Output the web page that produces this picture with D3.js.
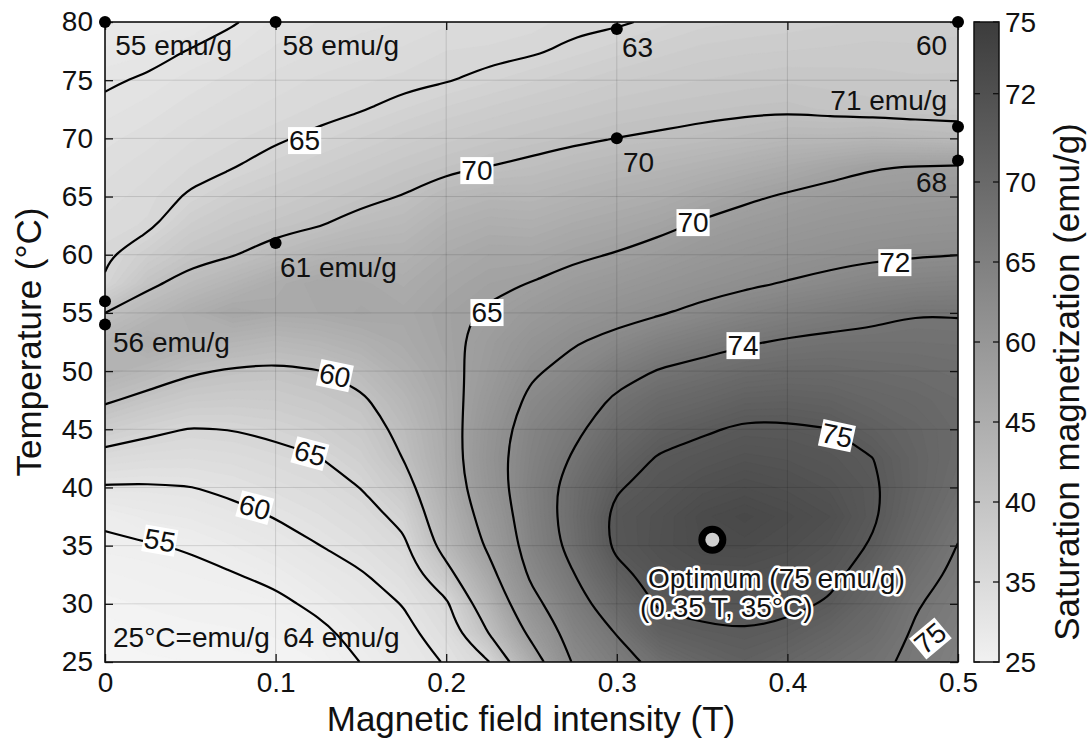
<!doctype html>
<html lang="en">
<head>
<meta charset="utf-8">
<title>Saturation magnetization contour</title>
<script src="https://cdn.jsdelivr.net/npm/d3@7"></script>
<style>
  body { margin: 0; background: #fff; }
  svg { display: block; font-family: "Liberation Sans", Arial, sans-serif; }
  .tick text { font-size: 28px; fill: #111; }
  .tick line { stroke: #111; stroke-width: 1.3; }
  .domain { display: none; }
</style>
</head>
<body>
<svg id="chart" width="1089" height="740"></svg>
<script>
// magnetic field (T) columns and temperature (°C) rows of the read-off grid
const fieldT = [0, 0.025, 0.05, 0.075, 0.1, 0.125, 0.15, 0.175, 0.2, 0.225, 0.25,
                0.275, 0.3, 0.325, 0.35, 0.375, 0.4, 0.425, 0.45, 0.475, 0.5];
const tempC = [25, 27.5, 30, 32.5, 35, 37.5, 40, 42.5, 45, 47.5, 50, 52.5,
               55, 57.5, 60, 62.5, 65, 67.5, 70, 72.5, 75, 77.5, 80];

// shading value, one column per field value, temperatures ascending
const satMag = [
  [25.0, 25.6, 26.3, 26.9, 27.7, 28.3, 30.8, 33.0, 35.6, 38.4, 41.0, 40.5, 38.0, 34.2, 33.7, 33.2, 32.7, 32.3, 31.8, 31.3, 30.8, 30.1, 29.5],
  [25.3, 26.0, 26.6, 27.2, 27.85, 29.2, 30.75, 32.6, 34.6, 37.1, 39.8, 42.5, 39.9, 37.4, 35.4, 33.6, 33.3, 32.8, 32.3, 31.7, 31.2, 30.4, 29.6],
  [25.5, 26.2, 26.9, 27.5, 28.2, 29.6, 30.95, 32.5, 33.9, 36.1, 38.35, 41.3, 41.9, 39.1, 37.1, 35.6, 34.2, 33.5, 32.9, 32.3, 31.7, 31.1, 29.9],
  [25.7, 26.4, 27.0, 27.9, 29.0, 30.3, 31.5, 32.75, 34.05, 35.9, 37.7, 40.5, 43.5, 40.6, 37.85, 36.6, 35.3, 33.95, 33.4, 32.8, 32.2, 31.5, 30.9],
  [26.0, 26.6, 27.4, 28.6, 29.9, 31.1, 32.2, 33.3, 34.5, 36.0, 37.4, 39.8, 42.8, 42.2, 39.2, 37.25, 36.0, 34.75, 33.8, 33.2, 32.7, 32.1, 31.6],
  [26.5, 27.3, 28.6, 29.8, 30.95, 31.9, 32.9, 33.9, 35.2, 36.6, 37.9, 40.4, 43.0, 43.4, 40.5, 37.9, 36.7, 35.5, 34.3, 33.6, 33.1, 32.5, 32.0],
  [28.05, 28.9, 29.9, 30.8, 31.9, 32.9, 34.05, 35.2, 36.3, 37.45, 39.2, 41.4, 43.6, 43.2, 41.1, 39.0, 37.35, 36.2, 35.0, 33.9, 33.4, 32.8, 32.3],
  [29.6, 30.3, 31.1, 32.2, 33.4, 34.75, 36.4, 38.1, 38.9, 40.1, 41.5, 42.7, 43.2, 42.4, 41.1, 39.6, 38.1, 36.9, 35.7, 34.5, 33.65, 33.1, 32.5],
  [31.2, 32.3, 33.4, 36.6, 39.6, 40.9, 42.0, 42.6, 42.9, 43.3, 43.8, 44.2, 44.4, 43.6, 42.6, 41.2, 39.6, 37.5, 36.3, 35.1, 33.9, 33.5, 32.9],
  [33.9, 38.1, 40.7, 43.4, 45.8, 47.1, 48.4, 48.9, 48.5, 47.5, 46.6, 46.1, 45.3, 44.5, 43.5, 42.0, 40.3, 38.05, 36.8, 35.6, 34.4, 33.6, 33.1],
  [42.3, 46.2, 49.4, 51.9, 53.4, 53.9, 54.2, 53.7, 53.2, 52.0, 50.4, 48.7, 46.9, 45.1, 43.5, 41.8, 40.2, 38.5, 37.2, 36.1, 34.9, 33.8, 33.3],
  [51.6, 53.4, 55.2, 56.9, 58.7, 59.1, 58.9, 57.5, 56.1, 54.3, 52.5, 50.7, 48.5, 46.4, 44.4, 42.7, 40.9, 39.2, 37.6, 36.5, 35.4, 34.3, 33.7],
  [55.2, 57.2, 60.0, 62.7, 65.0, 65.3, 63.6, 61.7, 59.7, 57.8, 55.2, 52.2, 49.7, 47.4, 45.2, 43.35, 41.6, 39.8, 38.02, 36.9, 35.9, 34.8, 33.8],
  [58.4, 62.2, 64.6, 65.8, 67.0, 66.8, 65.6, 64.4, 62.3, 59.8, 57.3, 54.0, 50.7, 48.5, 46.3, 44.2, 42.2, 40.3, 38.3, 37.2, 36.2, 35.3, 34.3],
  [61.0, 63.3, 65.2, 66.9, 68.5, 68.8, 67.1, 65.4, 63.5, 60.9, 58.3, 55.4, 52.0, 49.5, 47.5, 45.5, 43.3, 41.0, 38.7, 37.4, 36.5, 35.7, 34.8],
  [62.4, 63.8, 65.3, 67.0, 68.7, 69.7, 68.0, 66.3, 64.6, 62.2, 59.4, 56.6, 53.3, 50.4, 48.4, 46.5, 44.4, 41.8, 39.2, 37.6, 36.7, 35.9, 35.0],
  [61.0, 63.1, 64.9, 66.4, 67.8, 68.7, 67.3, 65.9, 64.5, 62.4, 59.9, 57.4, 54.4, 51.25, 49.2, 47.3, 45.4, 42.7, 39.8, 37.7, 36.9, 36.0, 35.2],
  [59.2, 61.4, 63.6, 65.0, 66.3, 67.5, 66.3, 65.2, 64.05, 62.0, 59.9, 57.9, 55.25, 52.1, 49.8, 48.0, 46.2, 43.8, 39.8, 37.4, 36.8, 36.1, 35.4],
  [57.9, 59.3, 60.7, 62.1, 63.6, 64.5, 64.6, 64.05, 62.55, 61.0, 59.5, 58.0, 56.0, 53.0, 50.35, 48.5, 46.7, 44.8, 40.2, 37.2, 36.7, 36.2, 35.6],
  [56.2, 56.6, 57.3, 58.6, 60.0, 61.0, 61.6, 61.6, 61.2, 60.3, 59.2, 58.0, 56.9, 53.5, 50.7, 48.9, 47.0, 45.2, 39.8, 37.0, 36.6, 36.1, 35.7],
  [54.0, 54.7, 55.4, 56.2, 56.9, 58.0, 59.0, 59.6, 59.8, 59.5, 58.8, 57.9, 56.8, 53.8, 50.95, 49.1, 47.3, 45.4, 39.4, 37.0, 36.6, 36.2, 35.8]
];

const lineLevels = [28, 31, 34, 38, 45, 51, 57, 64];
const xTicks = [0, 0.1, 0.2, 0.3, 0.4, 0.5];
const yTicks = [25, 30, 35, 40, 45, 50, 55, 60, 65, 70, 75, 80];
const cbTickPos = [25, 31.25, 37.5, 43.75, 50, 56.25, 62.5, 69.4, 75];
const cbTickText = ["25", "35", "40", "45", "60", "65", "70", "72", "75"];

// in-line contour labels: text, field, temperature, rotation
const lineLabels = [
  ["65", 0.117, 69.86, 0], ["70", 0.218, 67.28, 0], ["70", 0.3447, 62.81, 0],
  ["72", 0.463, 59.37, 0], ["65", 0.2239, 55.08, 0], ["74", 0.374, 52.24, 0],
  ["60", 0.1348, 49.66, 12], ["75", 0.4291, 44.5, 12], ["65", 0.1202, 42.96, 15],
  ["60", 0.0879, 38.32, 15], ["55", 0.0322, 35.48, 10], ["75", 0.4836, 27.06, -40]
];
const markedPoints = [[0, 80], [0.1, 80], [0.3, 79.4], [0.5, 80], [0.5, 71], [0.5, 68.1],
                      [0.3, 70], [0.1, 61], [0, 56], [0, 54]];
// annotation text: text, field, temperature (baseline), anchor
const notes = [
  ["55 emu/g", 0.006, 77.16, "start"], ["58 emu/g", 0.104, 77.16, "start"],
  ["63", 0.303, 77.0, "start"], ["60", 0.4936, 77.16, "end"],
  ["71 emu/g", 0.4936, 72.44, "end"], ["68", 0.4936, 65.39, "end"],
  ["70", 0.3036, 67.1, "start"], ["61 emu/g", 0.1026, 58.1, "start"],
  ["56 emu/g", 0.0047, 51.64, "start"], ["25°C=emu/g", 0.0047, 26.3, "start"],
  ["64 emu/g", 0.1043, 26.3, "start"]
];
const optimum = [0.356, 35.5];
const optimumText = [["Optimum (75 emu/g)", 0.3183, 31.36], ["(0.35 T, 35°C)", 0.3136, 28.87]];

const svg = d3.select("#chart");
const x = d3.scaleLinear().domain([0, 0.5]).range([105, 958]);
const y = d3.scaleLinear().domain([25, 80]).range([662, 22]);
// field shading steps a little at each drawn level, like the original
const shade = d3.scaleLinear()
  .domain([25, 28, 31, 34, 38, 45, 51, 57, 64, 71])
  .range([246, 238, 228, 214, 192, 160, 141, 117, 90, 68].map(g => d3.rgb(g, g, g)))
  .clamp(true);
const barColor = d3.scaleLinear().domain([25, 75]).range(["#f1f1f1", "#3c3c3c"]);

const defs = svg.append("defs");
defs.append("clipPath").attr("id", "plotClip")
  .append("rect").attr("x", 105).attr("y", 22).attr("width", 853).attr("height", 640);

// grid of values for d3.contours, top row = highest temperature
const n = fieldT.length, m = tempC.length;
const values = new Array(n * m);
for (let j = 0; j < m; j++) {
  for (let i = 0; i < n; i++) values[j * n + i] = satMag[i][m - 1 - j];
}
const colToField = d3.scaleLinear().domain([0, n - 1]).range([fieldT[0], fieldT[n - 1]]);
const rowToTemp = d3.scaleLinear().domain([0, m - 1]).range([tempC[m - 1], tempC[0]]);
const toPx = p => [x(colToField(p[0] - 0.5)), y(rowToTemp(p[1] - 0.5))];
const path = d3.geoPath(d3.geoTransform({
  point(px, py) { const q = toPx([px, py]); this.stream.point(q[0], q[1]); }
}));

const plot = svg.append("g").attr("clip-path", "url(#plotClip)");

const fillLevels = d3.range(24, 72, 0.5);
plot.append("g").selectAll("path")
  .data(d3.contours().size([n, m]).thresholds(fillLevels)(values))
  .join("path")
  .attr("d", path)
  .attr("fill", d => shade(d.value + 0.25))
  .attr("stroke", d => shade(d.value + 0.25))
  .attr("stroke-width", 0.6);

// grid lines
plot.append("g").selectAll("line").data(xTicks).join("line")
  .attr("x1", d => x(d)).attr("x2", d => x(d)).attr("y1", 22).attr("y2", 662)
  .attr("stroke", "#000").attr("stroke-opacity", 0.13);
plot.append("g").selectAll("line").data(yTicks).join("line")
  .attr("y1", d => y(d)).attr("y2", d => y(d)).attr("x1", 105).attr("x2", 958)
  .attr("stroke", "#000").attr("stroke-opacity", 0.13);

// contour lines: split each ring where it runs along the grid border, then smooth
const onBorder = p => p[0] <= 0 || p[0] >= n || p[1] <= 0 || p[1] >= m;
function ringRuns(ring) {
  const pts = ring.slice(0, -1);
  const k = pts.findIndex(onBorder);
  if (k < 0) return [{ closed: true, pts }];
  const rot = pts.slice(k).concat(pts.slice(0, k));
  const runs = [];
  let cur = [];
  rot.forEach(p => {
    if (onBorder(p)) { if (cur.length > 1) runs.push({ closed: false, pts: cur }); cur = []; }
    else cur.push(p);
  });
  if (cur.length > 1) runs.push({ closed: false, pts: cur });
  return runs;
}
const openLine = d3.line().curve(d3.curveBasis);
const closedLine = d3.line().curve(d3.curveBasisClosed);
const runs = [];
d3.contours().size([n, m]).thresholds(lineLevels)(values).forEach(g => {
  g.coordinates.forEach(poly => poly.forEach(ring => runs.push(...ringRuns(ring))));
});
plot.append("g").selectAll("path").data(runs).join("path")
  .attr("d", r => (r.closed ? closedLine : openLine)(r.pts.map(toPx)))
  .attr("fill", "none")
  .attr("stroke", "#000")
  .attr("stroke-width", 2.2)
  .attr("stroke-linejoin", "round");

// contour labels with white boxes
const lab = svg.append("g").selectAll("g").data(lineLabels).join("g")
  .attr("transform", d => `translate(${x(d[1])},${y(d[2])}) rotate(${d[3]})`);
lab.append("rect").attr("fill", "#fff");
lab.append("text")
  .attr("text-anchor", "middle").attr("dy", "0.36em")
  .attr("font-size", 28).attr("fill", "#111")
  .text(d => d[0]);
lab.each(function() {
  const b = d3.select(this).select("text").node().getBBox();
  d3.select(this).select("rect")
    .attr("x", b.x - 1).attr("y", b.y + 2).attr("width", b.width + 2).attr("height", b.height - 4);
});

// axes
svg.append("g").attr("transform", "translate(0,662)")
  .call(d3.axisBottom(x).tickValues(xTicks).tickSizeInner(-8).tickSizeOuter(0).tickPadding(10)
    .tickFormat(d => d === 0 ? "0" : d3.format(".1f")(d)));
svg.append("g").attr("transform", "translate(0,22)")
  .call(d3.axisTop(x).tickValues(xTicks).tickSizeInner(-8).tickSizeOuter(0).tickFormat(""));
svg.append("g").attr("transform", "translate(105,0)")
  .call(d3.axisLeft(y).tickValues(yTicks).tickSizeInner(-8).tickSizeOuter(0).tickPadding(12));
svg.append("g").attr("transform", "translate(958,0)")
  .call(d3.axisRight(y).tickValues(yTicks).tickSizeInner(-8).tickSizeOuter(0).tickFormat(""));
svg.selectAll(".tick text").attr("font-size", 28).attr("fill", "#111");

svg.append("rect").attr("x", 105).attr("y", 22).attr("width", 853).attr("height", 640)
  .attr("fill", "none").attr("stroke", "#111").attr("stroke-width", 1.6);

svg.append("text").attr("x", 531).attr("y", 731).attr("text-anchor", "middle")
  .attr("font-size", 35).attr("fill", "#111").text("Magnetic field intensity (T)");
svg.append("text").attr("transform", "translate(41,342) rotate(-90)").attr("text-anchor", "middle")
  .attr("font-size", 35).attr("fill", "#111").text("Temperature (°C)");

// marked points and notes
svg.append("g").selectAll("circle").data(markedPoints).join("circle")
  .attr("cx", d => x(d[0])).attr("cy", d => y(d[1])).attr("r", 6).attr("fill", "#000");
svg.append("g").selectAll("text").data(notes).join("text")
  .attr("x", d => x(d[1])).attr("y", d => y(d[2])).attr("text-anchor", d => d[3])
  .attr("font-size", 28).attr("fill", "#111").text(d => d[0]);

// optimum marker
svg.append("circle").attr("cx", x(optimum[0])).attr("cy", y(optimum[1])).attr("r", 14).attr("fill", "#000");
svg.append("circle").attr("cx", x(optimum[0])).attr("cy", y(optimum[1])).attr("r", 7).attr("fill", "#cfcfcf");
svg.append("g").selectAll("text").data(optimumText).join("text")
  .attr("x", d => x(d[1])).attr("y", d => y(d[2]))
  .attr("font-size", 28).attr("fill", "#111")
  .attr("stroke", "#fff").attr("stroke-width", 5).attr("stroke-linejoin", "round")
  .attr("paint-order", "stroke")
  .text(d => d[0]);

// colorbar
const cb = d3.scaleLinear().domain([25, 75]).range([662, 22]);
const grad = defs.append("linearGradient").attr("id", "cbGrad")
  .attr("x1", 0).attr("y1", 1).attr("x2", 0).attr("y2", 0);
grad.selectAll("stop").data([25, 75]).join("stop")
  .attr("offset", (d, i) => i).attr("stop-color", d => barColor(d));
const cbX = 974, cbW = 25;
svg.append("rect").attr("x", cbX).attr("y", 22).attr("width", cbW).attr("height", 640)
  .attr("fill", "url(#cbGrad)").attr("stroke", "#111").attr("stroke-width", 1.5);
const cbT = svg.append("g").selectAll("g").data(cbTickPos).join("g");
cbT.append("line").attr("x1", cbX).attr("x2", cbX + 6).attr("y1", d => cb(d)).attr("y2", d => cb(d))
  .attr("stroke", "#111").attr("stroke-width", 1.3);
cbT.append("line").attr("x1", cbX + cbW - 6).attr("x2", cbX + cbW).attr("y1", d => cb(d)).attr("y2", d => cb(d))
  .attr("stroke", "#111").attr("stroke-width", 1.3);
cbT.append("text").attr("x", cbX + cbW + 6).attr("y", d => cb(d)).attr("dy", "0.36em")
  .attr("font-size", 28).attr("fill", "#111").text((d, i) => cbTickText[i]);
svg.append("text").attr("transform", "translate(1079,382) rotate(-90)").attr("text-anchor", "middle")
  .attr("font-size", 35).attr("fill", "#111").text("Saturation magnetization (emu/g)");
</script>
</body>
</html>
